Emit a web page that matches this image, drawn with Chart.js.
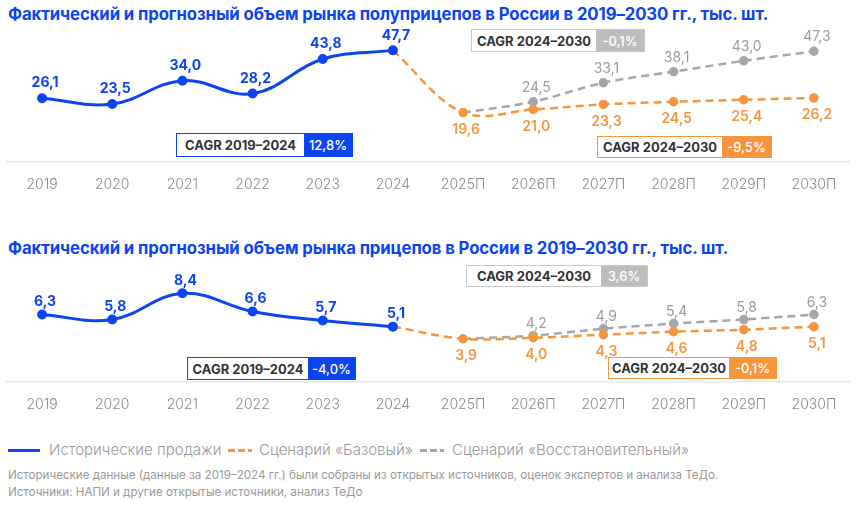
<!DOCTYPE html>
<html><head><meta charset="utf-8">
<script src="https://cdn.jsdelivr.net/npm/chart.js@4.4.0/dist/chart.umd.min.js"></script>
<style>
html,body{margin:0;padding:0;background:#fff;}
#page{position:relative;width:859px;height:510px;overflow:hidden;font-family:Inter,"Noto Sans",sans-serif;}
.title{position:absolute;left:8px;font-weight:700;color:#0b44f0;font-size:15.7px;white-space:nowrap;letter-spacing:-0.1px;line-height:20px;}
.chartbox{position:absolute;left:0;width:859px;}
.cagr{position:absolute;display:flex;box-sizing:border-box;font-size:13px;white-space:nowrap;z-index:5;}
.cagr .k{flex:1;background:#fff;color:#333;font-weight:700;display:flex;align-items:center;justify-content:center;}
.cagr .v{color:#fff;display:flex;align-items:center;justify-content:center;font-weight:500;}
.leg{position:absolute;top:441px;font-size:15px;font-weight:300;color:#999;white-space:nowrap;line-height:18px;}
.sw{position:absolute;top:449px;height:3px;}
.note{position:absolute;left:8px;font-size:11.6px;color:#999;white-space:nowrap;line-height:14px;}
</style></head>
<body><div id="page">
<div class="title" data-w="759" style="top:4px">Фактический и прогнозный объем рынка полуприцепов в России в 2019–2030 гг., тыс. шт.</div>
<div class="chartbox" style="top:20px;height:187px"><canvas id="c1"></canvas></div>
<div class="title" data-w="719" style="top:238px">Фактический и прогнозный объем рынка прицепов в России в 2019–2030 гг., тыс. шт.</div>
<div class="chartbox" style="top:254px;height:173px"><canvas id="c2"></canvas></div>

<div id="boxes"></div>

<div class="sw" style="left:8px;width:32px;background:#0b44f0"></div>
<div class="leg" style="left:49px">Исторические продажи</div>
<div class="sw" style="left:228px;width:24px;background:linear-gradient(to right,#f7953c 0 7px,transparent 7px 10px,#f7953c 10px 17px,transparent 17px 20px,#f7953c 20px 24px)"></div>
<div class="leg" style="left:259px">Сценарий «Базовый»</div>
<div class="sw" style="left:420px;width:24px;background:linear-gradient(to right,#a6a6a6 0 7px,transparent 7px 10px,#a6a6a6 10px 17px,transparent 17px 20px,#a6a6a6 20px 24px)"></div>
<div class="leg" style="left:452px">Сценарий «Восстановительный»</div>
<div class="note" style="top:468px">Исторические данные (данные за 2019–2024 гг.) были собраны из открытых источников, оценок экспертов и анализа ТеДо.</div>
<div class="note" style="top:485px">Источники: НАПИ и другие открытые источники, анализ ТеДо</div>
</div>
<script>
const years = ['2019','2020','2021','2022','2023','2024','2025П','2026П','2027П','2028П','2029П','2030П'];

const semiHistoric = [26.1, 23.5, 34.0, 28.2, 43.8, 47.7, null, null, null, null, null, null];
const semiBase     = [null, null, null, null, null, 47.7, 19.6, 21.0, 23.3, 24.5, 25.4, 26.2];
const semiRecovery = [null, null, null, null, null, null, 19.6, 24.5, 33.1, 38.1, 43.0, 47.3];

const trailHistoric = [6.3, 5.8, 8.4, 6.6, 5.7, 5.1, null, null, null, null, null, null];
const trailBase     = [null, null, null, null, null, 5.1, 3.9, 4.0, 4.3, 4.6, 4.8, 5.1];
const trailRecovery = [null, null, null, null, null, null, 3.9, 4.2, 4.9, 5.4, 5.8, 6.3];

const cagrLabels = ['CAGR 2019–2024', 'CAGR 2024–2030', 'CAGR 2024–2030'];
const semiCagr  = ['12,8%', '-9,5%', '-0,1%'];
const trailCagr = ['-4,0%', '-0,1%', '3,6%'];

const BLUE = '#0b44f0', ORANGE = '#f7953c', GREY = '#a6a6a6';

// fit titles to the reference width
document.querySelectorAll('.title').forEach(el => {
  const target = +el.dataset.w;
  const w = el.getBoundingClientRect().width;
  if (w > 0) el.style.fontSize = (15.7 * target / w).toFixed(2) + 'px';
});

const valueLabels = {
  id: 'valueLabels',
  afterDatasetsDraw(chart) {
    const ctx = chart.ctx;
    chart.data.datasets.forEach((ds, di) => {
      const lab = ds.lbl; if (!lab) return;
      const meta = chart.getDatasetMeta(di);
      meta.data.forEach((pt, i) => {
        const v = ds.data[i];
        if (v == null || i < lab.from) return;
        ctx.save();
        ctx.font = lab.font; ctx.fillStyle = lab.color;
        ctx.textAlign = 'center'; ctx.textBaseline = 'middle';
        ctx.fillText(v.toFixed(1).replace('.', ','), pt.x + 3, pt.y + lab.dy);
        ctx.restore();
      });
    });
  }
};

function makeChart(id, hist, base, rec, yMin, yMax, dyUp, dyDown, dyGrey) {
  return new Chart(document.getElementById(id), {
    type: 'line',
    data: {
      labels: years,
      datasets: [
        { data: hist, borderColor: BLUE, backgroundColor: BLUE, borderWidth: 3, tension: 0.4,
          pointRadius: 3.5, pointHoverRadius: 3.5,
          lbl: {from: 0, dy: dyUp, color: BLUE, font: '700 14px Inter'} },
        { data: base, borderColor: ORANGE, backgroundColor: ORANGE, borderWidth: 2.5, borderDash: [8, 5], tension: 0.35,
          pointRadius: c => c.dataIndex < 6 ? 0 : 3.5,
          lbl: {from: 6, dy: dyDown, color: ORANGE, font: '600 14px Inter'} },
        { data: rec, borderColor: GREY, backgroundColor: GREY, borderWidth: 2.5, borderDash: [8, 5], tension: 0.3,
          pointRadius: c => c.dataIndex < 7 ? 0 : 3.5,
          lbl: {from: 7, dy: dyGrey, color: '#9c9c9c', font: '400 14px Inter'} }
      ]
    },
    options: {
      responsive: true, maintainAspectRatio: false, animation: false,
      layout: {padding: {left: 7, right: 10, top: 10, bottom: 0}},
      plugins: {legend: {display: false}, tooltip: {enabled: false}},
      scales: {
        x: { offset: true, grid: {display: false, drawTicks: false},
             border: {display: true, color: '#e6e6e6', width: 1.5},
             ticks: {color: '#8a8a8a', font: {family: 'Inter', size: 14, weight: 300}, padding: 14, maxRotation: 0, autoSkip: false} },
        y: { display: false, min: yMin, max: yMax }
      }
    },
    plugins: [valueLabels]
  });
}

makeChart('c1', semiHistoric, semiBase, semiRecovery, -2.8, 56.9, -15, 17, -14);
makeChart('c2', trailHistoric, trailBase, trailRecovery, -0.4, 11.3, -13, 17, -12);

function box(x, y, w, h, split, key, val, color, border) {
  const d = document.createElement('div');
  d.className = 'cagr';
  d.style.cssText = `left:${x}px;top:${y}px;width:${w}px;height:${h}px;border:1.5px solid ${border}`;
  d.innerHTML = `<div class="k">${key}</div><div class="v" style="width:${x + w - split}px;background:${color}">${val}</div>`;
  document.getElementById('boxes').appendChild(d);
}
box(176, 133, 177, 24, 305, cagrLabels[0], semiCagr[0], BLUE, BLUE);
box(597, 136, 175, 22, 723, cagrLabels[1], semiCagr[1], ORANGE, ORANGE);
box(471, 29, 174, 23, 597, cagrLabels[2], semiCagr[2], '#bdbdbd', '#c8c8c8');
box(187, 357, 169, 23, 309, cagrLabels[0], trailCagr[0], BLUE, BLUE);
box(608, 357, 169, 22, 730, cagrLabels[1], trailCagr[1], ORANGE, ORANGE);
box(466, 265, 182, 22, 602, cagrLabels[2], trailCagr[2], '#bdbdbd', '#c8c8c8');
</script>
</body></html>
